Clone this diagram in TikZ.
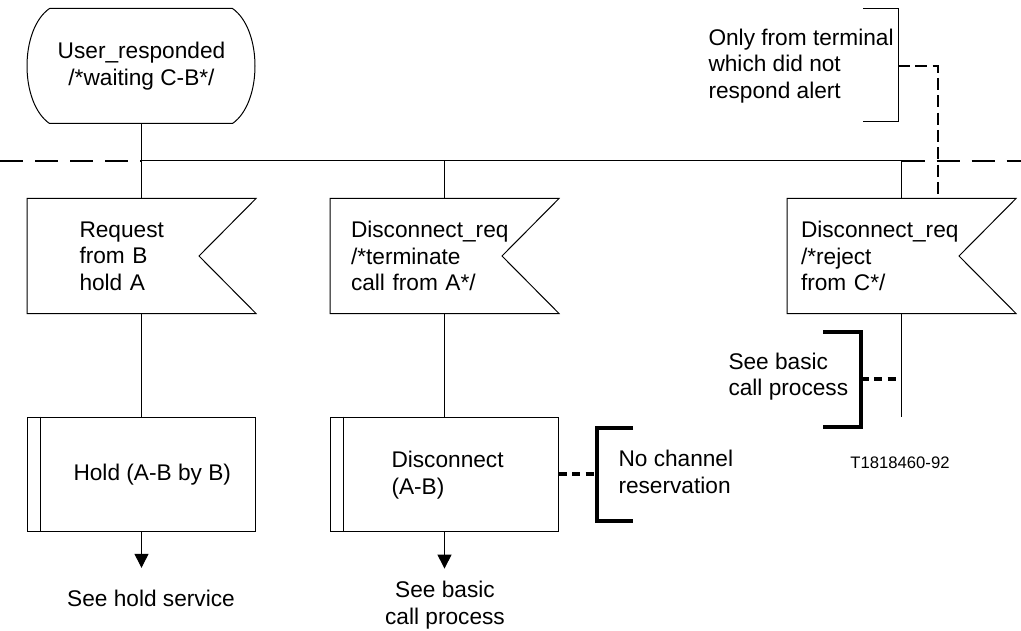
\documentclass[tikz,border=0pt]{standalone}
\usepackage{fontspec}
\setmainfont{Liberation Sans}
\usepackage{tikz}
\usetikzlibrary{arrows.meta,calc}

\begin{document}
\begin{tikzpicture}[x=0.75pt, y=-0.75pt, line width=0.75pt,
    every node/.style={inner sep=0pt, font=\fontsize{17}{20}\selectfont},
    statebox/.style={minimum width=171.75pt, minimum height=85.5pt, align=center,
        append after command={\pgfextra{\draw ($(\tikzlastnode.north west)+(23,0)$) -- ($(\tikzlastnode.north east)+(-24,0)$)
            .. controls +(30,21) and +(30,-21) .. ($(\tikzlastnode.south east)+(-24,0)$)
            -- ($(\tikzlastnode.south west)+(23,0)$)
            .. controls +(-30,-21) and +(-30,21) .. ($(\tikzlastnode.north west)+(23,0)$);}}},
    insig/.style={minimum width=171pt, minimum height=85.5pt, align=left,
        append after command={\pgfextra{\draw (\tikzlastnode.north west) -- (\tikzlastnode.north east)
            -- ([xshift=-42.75pt]\tikzlastnode.east) -- (\tikzlastnode.south east)
            -- (\tikzlastnode.south west) -- cycle;}}},
    procbox/.style={draw, minimum width=171pt, minimum height=85.5pt,
        append after command={\pgfextra{\draw ([xshift=9.75pt]\tikzlastnode.north west)
            -- ([xshift=9.75pt]\tikzlastnode.south west);}}},
    flow/.style={-{Triangle[length=10.5pt,width=10.5pt]}},
    bus/.style={line width=1.2pt, dash pattern=on 17.25pt off 9pt},
    note/.style={line width=0.75pt},
    notethick/.style={line width=2.4pt},
    link/.style={line width=1.2pt, dash pattern=on 9pt off 4pt},
    linkthick/.style={line width=2.4pt, dash pattern=on 6pt off 4pt}]
    \useasboundingbox (0,0) rectangle (1021,631);

    \node[statebox] (st) at (141.5, 66) {User\_responded\\/*waiting C-B*/};

    \node[insig, text width=93pt] (il) at (141.5, 256) {Request\\from B\\hold A};
    \node[insig, text width=140.25pt] (im) at (444.5, 256) {Disconnect\_req\\/*terminate\\call from A*/};
    \node[insig, text width=150.75pt] (ir) at (901.5, 256) {Disconnect\_req\\/*reject\\from C*/};

    \node[procbox] (pl) at (141.5, 474) {};
    \node[procbox] (pm) at (444.5, 474) {};
    \node[anchor=west] (plt) at (73, 475) {Hold (A-B by B)};
    \node[anchor=west, align=left] (pmt) at (391, 475) {Disconnect\\(A-B)};

    \node[] (pls) at (151, 598) {See hold service};
    \node[align=center] (pms) at (445, 605) {See basic\\call process};

    \node[anchor=west, align=left] (ct) at (708, 66) {Only from terminal\\which did not\\respond alert};
    \node[anchor=west, align=left] (cm) at (618, 472) {No channel\\reservation};
    \node[anchor=west, align=left] (cr) at (728, 376.5) {See basic\\call process};
    \node[font=\fontsize{12.5}{15}\selectfont] (tag) at (900, 463) {T1818460-92};

    \coordinate (busl) at (0, 161);
    \coordinate (busr) at (1021, 161);
    \coordinate (b1) at (141.5, 161);
    \coordinate (b2) at (444.5, 161);
    \coordinate (b3) at (901.5, 161);
    \coordinate (irend) at (901.5, 417);
    \coordinate (ctb) at (898, 66);
    \coordinate (ctk) at (938, 66);
    \coordinate (cmb) at (597, 474);
    \coordinate (crb) at (861, 379);

    \draw[bus] (busl) -- (b1);
    \draw (b1) -- (b3);
    \draw[bus] (b3) -- (busr);
    \draw[line width=1.2pt] (st.south) -- (il.north);
    \draw
    (b2) edge[] (im.north)
    (b3) edge[] (ir.north)
    (il.south) edge[] (pl.north)
    (im.south) edge[] (pm.north)
    (ir.south) edge[] (irend);
    \draw[flow, shorten >=16pt] (pl.south) -- (pl.south |- pls.north);
    \draw[flow, shorten >=9pt] (pm.south) -- (pm.south |- pms.north);

    \draw[note] (863, 9) -- (898, 9) -- (898, 122) -- (863, 122);
    \draw[link] (ctb) -- (ctk) -- (ctk |- ir.north);
    \draw[notethick] (633, 428) -- (597, 428) -- (597, 521) -- (633, 521);
    \draw[linkthick] (pm.east) -- (cmb);
    \draw[notethick] (823, 332) -- (861, 332) -- (861, 427) -- (823, 427);
    \draw[linkthick] (crb) -- (crb -| ir);
\end{tikzpicture}
\end{document}
